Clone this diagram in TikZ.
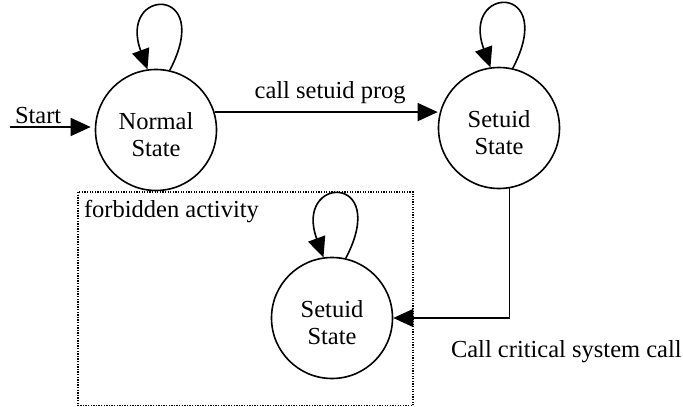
\documentclass[tikz,border=0pt]{standalone}
\usepackage{fontspec}
\setmainfont{Liberation Serif}
\usetikzlibrary{arrows.meta}
\begin{document}
\begin{tikzpicture}[x=1pt, y=-1pt,
  line width=1.6pt,
  lbl/.style={font=\fontsize{24.5}{27}\selectfont, inner sep=0pt, outer sep=0pt},
  state/.style={circle, draw, minimum size=121pt, inner sep=0pt,
                align=center, text height=56pt, text depth=3pt,
                font=\fontsize{24.5}{27}\selectfont},
  tip/.style={-{Triangle[length=20pt, width=18pt]}},
  selfloop/.style={tip},
  zone/.style={line width=1.3pt, dash pattern=on 1.3pt off 1.3pt}]
  \useasboundingbox (0,0) rectangle (683,407);

  % forbidden region
  \draw[zone] (78,192) rectangle (413,405.5);
  \node[lbl, anchor=base west] (fz) at (84,217) {forbidden activity};

  % states
  \node[state] (ns) at (156,130) {Normal\\State};
  \node[state] (ss) at (499,128) {Setuid\\State};
  \node[state] (bs) at (332,318) {Setuid\\State};

  % entry arrow
  \coordinate (st) at (10,127);
  \node[lbl, anchor=base west] (stl) at (15,123) {Start};
  \draw[tip, shorten >=4pt] (st) -- (st -| ns.west);

  % self loops
  \foreach \n in {ns, ss, bs}
    \draw[selfloop] (\n.77) .. controls +(45,-86) and +(-30,-82) .. (\n.98);

  % transitions
  \draw[tip] (ns.17) -- (ns.17 -| ss.west)
    node[lbl, midway, anchor=base, xshift=4pt, yshift=14pt] (c1) {call setuid prog};
  \draw[tip] (ss.-80.6) |- (bs.east);
  \node[lbl, anchor=base west] (c2) at (451,357) {Call critical system call};
\end{tikzpicture}
\end{document}
